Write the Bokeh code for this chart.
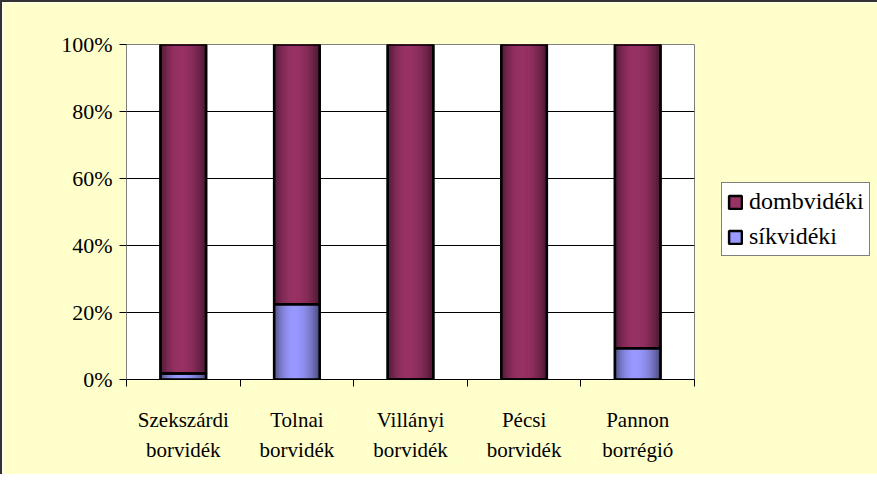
import numpy as np
from bokeh.plotting import figure
from bokeh.models import (ColumnDataSource, Range1d, FixedTicker, NumeralTickFormatter,
                          Legend, LegendItem)
from bokeh.embed import file_html
from bokeh.resources import INLINE

# ---- data (percent) ----
categories = ["Szekszárdi\nborvidék", "Tolnai\nborvidék", "Villányi\nborvidék",
              "Pécsi\nborvidék", "Pannon\nborrégió"]
sikvideki = [1.8, 22.5, 0.0, 0.0, 9.3]
dombvideki = [98.2, 77.5, 100.0, 100.0, 90.7]
series_names = ["dombvidéki", "síkvidéki"]
y_ticks = [0, 0.2, 0.4, 0.6, 0.8, 1.0]

FONT = "Liberation Serif"
BAR_W = 0.4
N_STRIPS = 24

p = figure(frame_width=568, frame_height=335, output_backend="svg", toolbar_location=None,
           x_range=Range1d(0, len(categories)), y_range=Range1d(0, 1),
           min_border_left=124, min_border_right=174, min_border_top=42, min_border_bottom=95,
           styles={"border-left": "2px solid #333333", "border-top": "2px solid #333333"})
p.border_fill_color = "#FFFFCC"
p.background_fill_color = "white"
p.outline_line_color = "#808080"
p.outline_line_width = 1

def shade(base, f):
    r, g, b = [int(base[i:i + 2], 16) for i in (1, 3, 5)]
    return "#%02x%02x%02x" % (int(r * f), int(g * f), int(b * f))

def shade_factor(t):
    peak = 0.45
    if t < peak:
        d = (peak - t) / peak
    else:
        d = (t - peak) / (1 - peak)
    return 1.0 - 0.5 * d ** 2

bottoms_sik = [0.0] * len(categories)
tops_sik = [v / 100 for v in sikvideki]
bottoms_domb = tops_sik
tops_domb = [s / 100 + d / 100 for s, d in zip(sikvideki, dombvideki)]

xc = [i + 0.5 for i in range(len(categories))]

PLUM = "#993366"
LAV = "#9999FF"

# base solid bars (also used for legend glyphs)
r_sik = p.vbar(x=xc, width=BAR_W, bottom=bottoms_sik, top=tops_sik, fill_color=LAV,
               line_color="black", line_width=2.5)
r_domb = p.vbar(x=xc, width=BAR_W, bottom=bottoms_domb, top=tops_domb, fill_color=PLUM,
                line_color="black", line_width=2.5)

def gradient_bar(bottoms, tops, base):
    left, right, bot, top, col = [], [], [], [], []
    sw = BAR_W / N_STRIPS
    for j in range(N_STRIPS):
        t = (j + 0.5) / N_STRIPS
        c = shade(base, shade_factor(t))
        for x, b, tp in zip(xc, bottoms, tops):
            if tp <= b:
                continue
            l = x - BAR_W / 2 + j * sw
            left.append(l); right.append(l + sw)
            bot.append(b); top.append(tp); col.append(c)
    src = ColumnDataSource(dict(left=left, right=right, bottom=bot, top=top, color=col))
    p.quad(left="left", right="right", bottom="bottom", top="top", fill_color="color",
           line_color="color", line_width=1, source=src)

gradient_bar(bottoms_sik, tops_sik, LAV)
gradient_bar(bottoms_domb, tops_domb, PLUM)

# outlines on top
p.vbar(x=xc, width=BAR_W, bottom=bottoms_sik, top=tops_sik, fill_color=None,
       line_color="black", line_width=2.5)
p.vbar(x=xc, width=BAR_W, bottom=bottoms_domb, top=tops_domb, fill_color=None,
       line_color="black", line_width=2.5)

legend = Legend(items=[LegendItem(label=series_names[0], renderers=[r_domb]),
                       LegendItem(label=series_names[1], renderers=[r_sik])],
                location=(27, 123))
legend.label_text_font = FONT
legend.label_text_font_size = "24px"
legend.label_text_color = "black"
legend.glyph_width = 16
legend.glyph_height = 16
legend.label_standoff = 6
legend.spacing = 8
legend.padding = 5
legend.margin = 0
legend.border_line_color = "black"
legend.border_line_width = 1
legend.background_fill_color = "white"
legend.background_fill_alpha = 1
p.add_layout(legend, "right")

# axes
xa = p.xaxis[0]
xa.ticker = FixedTicker(ticks=xc, minor_ticks=list(range(len(categories) + 1)))
xa.major_label_overrides = {x: c for x, c in zip(xc, categories)}
xa.major_tick_line_color = None
xa.major_tick_out = 0
xa.major_tick_in = 0
xa.minor_tick_line_color = "black"
xa.minor_tick_out = 7
xa.minor_tick_in = 0
xa.axis_line_color = "black"
xa.major_label_text_font = FONT
xa.major_label_text_font_size = "21px"
xa.major_label_text_color = "black"
xa.major_label_text_line_height = 1.25
xa.major_label_standoff = 21

ya = p.yaxis[0]
ya.ticker = FixedTicker(ticks=y_ticks)
ya.formatter = NumeralTickFormatter(format="0%")
ya.major_tick_line_color = "black"
ya.major_tick_out = 7
ya.major_tick_in = 0
ya.minor_tick_line_color = None
ya.axis_line_color = "#808080"
ya.major_label_text_font = FONT
ya.major_label_text_font_size = "22px"
ya.major_label_text_color = "black"
ya.major_label_standoff = 7

p.xgrid.grid_line_color = None
p.ygrid.grid_line_color = "black"
p.ygrid.grid_line_width = 1

open("out.html", "w").write(file_html(p, INLINE))
